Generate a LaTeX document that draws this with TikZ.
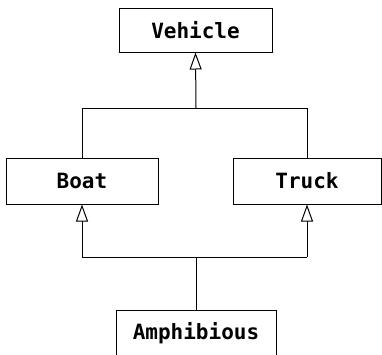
\documentclass[tikz,border=0pt]{standalone}
\usepackage{fontspec}
\newfontfamily\monob{DejaVu Sans Mono}
\usetikzlibrary{arrows.meta}
\begin{document}
\begin{tikzpicture}[x=1pt,y=-1pt,
  cls/.style={draw=black, line width=1pt, fill=white, inner sep=0pt,
    minimum height=46pt, font=\monob\bfseries\fontsize{21}{24}\selectfont},
  conn/.style={line width=1pt, draw=black},
  inh/.style={conn, -{Triangle[open, length=17pt, width=12pt, fill=white]}}]
\useasboundingbox (0,0) rectangle (382,354);
\clip (0,0) rectangle (382,354);
\node[cls, minimum width=153pt, minimum height=44pt] (veh) at (195.5,30) {Vehicle};
\node[cls, minimum width=152pt] (boat) at (82,181) {Boat};
\node[cls, minimum width=148pt] (truck) at (307,181) {Truck};
\node[cls, minimum width=160pt] (amph) at (196,333) {Amphibious};
\coordinate (j1) at (196,108);
\coordinate (l1) at (82,108);
\coordinate (r1) at (307,108);
\coordinate (j2) at (196,257);
\coordinate (l2) at (82,257);
\coordinate (r2) at (307,257);
\draw[inh] (j1) -- (veh.south);
\draw[conn] (boat.north) -- (l1) -- (r1) -- (truck.north);
\draw[inh] (l2) -- (boat.south);
\draw[inh] (r2) -- (truck.south);
\draw[conn] (l2) -- (r2);
\draw[conn] (amph.north) -- (j2);
\end{tikzpicture}
\end{document}
